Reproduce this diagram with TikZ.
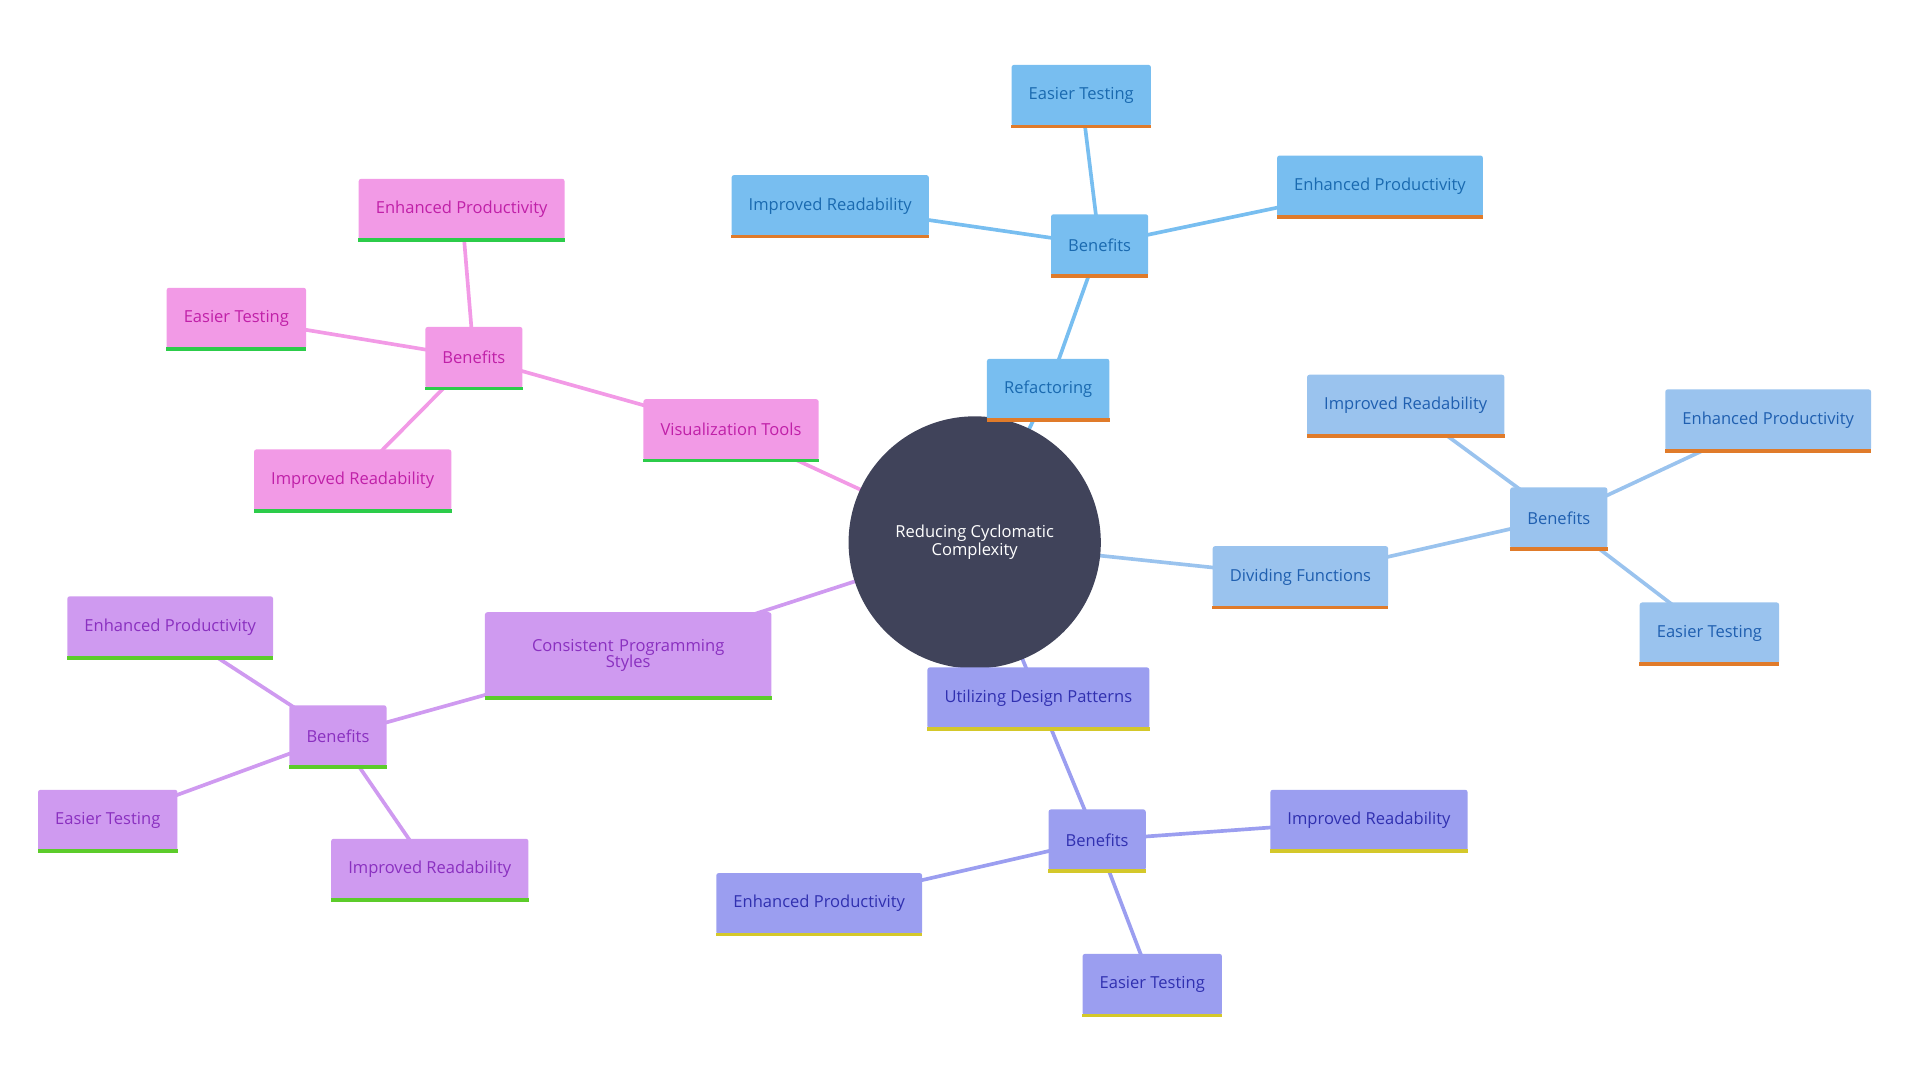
\documentclass[tikz,border=0pt]{standalone}
\usepackage{fontspec}
\setmainfont{Open Sans}
\usetikzlibrary{backgrounds}
\definecolor{cdark}{HTML}{40435A}
\definecolor{rf}{HTML}{78BEF0}\definecolor{rt}{HTML}{1A6AB0}
\definecolor{df}{HTML}{9AC3EE}\definecolor{dt}{HTML}{1F5FB0}
\definecolor{uf}{HTML}{9B9EF0}\definecolor{ut}{HTML}{3030B0}
\definecolor{cf}{HTML}{CF9AF0}\definecolor{ct}{HTML}{8A30C0}
\definecolor{vf}{HTML}{F29AE6}\definecolor{vt}{HTML}{C020A8}
\definecolor{orng}{HTML}{E07B2A}\definecolor{yel}{HTML}{D4C82A}
\definecolor{grn}{HTML}{5CCC2A}\definecolor{grn2}{HTML}{2CCC4A}
\tikzset{
 bx/.style={rounded corners=2pt,minimum height=50pt,inner xsep=14pt,font=\fontsize{13.5}{15}\selectfont,align=center},
 ln/.style={line width=3pt},
}
\newcommand\mbx[6]{% name, pos, text, fill, textcol, border
 \node[bx,fill=#4,text=#5] (#1) at (#2) {#3};
 \draw[line width=3pt,#6] (#1.south west) -- (#1.south east);}
\begin{document}
\begin{tikzpicture}[x=1pt,y=-1pt]
\useasboundingbox (0,0) rectangle (1568,882);
\node[circle,fill=cdark,text=white,minimum size=206pt,align=center,font=\fontsize{13.5}{15}\selectfont] (c) at (796,443) {Reducing Cyclomatic\\Complexity};
% refactoring
\mbx{r}{856,318}{Refactoring}{rf}{rt}{orng}
\mbx{rb}{898,200}{Benefits}{rf}{rt}{orng}
\mbx{r1}{883,78}{Easier Testing}{rf}{rt}{orng}
\mbx{r2}{678,168}{Improved Readability}{rf}{rt}{orng}
\mbx{r3}{1127,152}{Enhanced Productivity}{rf}{rt}{orng}
% dividing
\mbx{d}{1062,471}{Dividing Functions}{df}{dt}{orng}
\mbx{db}{1273,423}{Benefits}{df}{dt}{orng}
\mbx{d1}{1148,331}{Improved Readability}{df}{dt}{orng}
\mbx{d2}{1444,343}{Enhanced Productivity}{df}{dt}{orng}
\mbx{d3}{1396,517}{Easier Testing}{df}{dt}{orng}
% design
\mbx{u}{848,570}{Utilizing Design Patterns}{uf}{ut}{yel}
\mbx{ub}{896,686}{Benefits}{uf}{ut}{yel}
\mbx{u1}{1118,670}{Improved Readability}{uf}{ut}{yel}
\mbx{u2}{669,738}{Enhanced Productivity}{uf}{ut}{yel}
\mbx{u3}{941,804}{Easier Testing}{uf}{ut}{yel}
% consistent
\node[bx,fill=cf,text=ct,minimum height=70pt,text width=206pt] (s) at (513,535) {Consistent Programming\\[-2pt]Styles};
\draw[line width=3pt,grn] (s.south west) -- (s.south east);
\mbx{sb}{276,601}{Benefits}{cf}{ct}{grn}
\mbx{s1}{139,512}{Enhanced Productivity}{cf}{ct}{grn}
\mbx{s2}{88,670}{Easier Testing}{cf}{ct}{grn}
\mbx{s3}{351,710}{Improved Readability}{cf}{ct}{grn}
% visualization
\mbx{v}{597,351}{Visualization Tools}{vf}{vt}{grn2}
\mbx{vb}{387,292}{Benefits}{vf}{vt}{grn2}
\mbx{v1}{377,171}{Enhanced Productivity}{vf}{vt}{grn2}
\mbx{v2}{193,260}{Easier Testing}{vf}{vt}{grn2}
\mbx{v3}{288,392}{Improved Readability}{vf}{vt}{grn2}
\begin{scope}[on background layer]
\foreach \a/\b in {c/r,r/rb,rb/r1,rb/r2,rb/r3} \draw[ln,rf] (\a.center) -- (\b.center);
\foreach \a/\b in {c/d,d/db,db/d1,db/d2,db/d3} \draw[ln,df] (\a.center) -- (\b.center);
\foreach \a/\b in {c/u,u/ub,ub/u1,ub/u2,ub/u3} \draw[ln,uf] (\a.center) -- (\b.center);
\foreach \a/\b in {c/s,s/sb,sb/s1,sb/s2,sb/s3} \draw[ln,cf] (\a.center) -- (\b.center);
\foreach \a/\b in {c/v,v/vb,vb/v1,vb/v2,vb/v3} \draw[ln,vf] (\a.center) -- (\b.center);
\end{scope}
\end{tikzpicture}
\end{document}
